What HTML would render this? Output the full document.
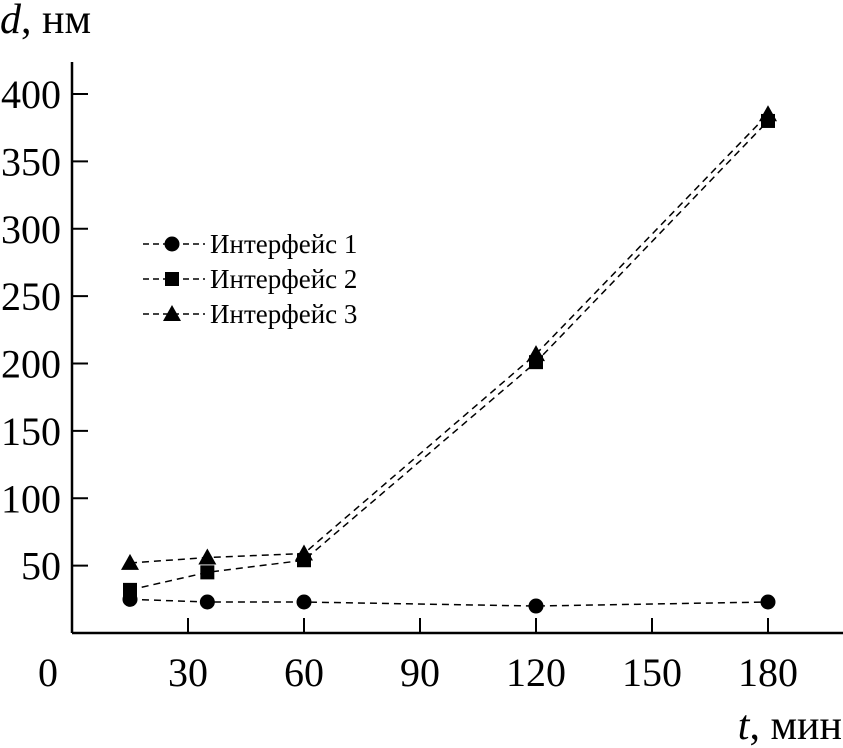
<!DOCTYPE html>
<html><head><meta charset="utf-8"><style>
body{margin:0;background:#fff}
svg{display:block;font-family:"Liberation Serif",serif}
</style></head><body>
<svg id="c" width="843" height="748"></svg>
<script>
const tvals=[15,35,60,120,180];
const s1=[25,23,23,20,23];
const s2=[32,45,54,201,380];
const s3=[52,56,59,207,385];
const xTicks=[0,30,60,90,120,150,180];
const yTicks=[50,100,150,200,250,300,350,400];
const legendLabels=["Интерфейс 1","Интерфейс 2","Интерфейс 3"];
const X0=72,XS=(188-72)/30,Y0=633,YS=(633-94)/400;
const x=v=>X0+v*XS, y=v=>Y0-v*YS;
const svg=document.getElementById('c');
const NS='http://www.w3.org/2000/svg';
function mk(t,a,p){const e=document.createElementNS(NS,t);for(const k in a)e.setAttribute(k,a[k]);(p||svg).appendChild(e);return e;}
let e;
e=mk('line',{x1:X0,y1:62,x2:X0,y2:Y0,stroke:'#000','stroke-width':2.5});


e=mk('line',{x1:X0,y1:Y0,x2:843,y2:Y0,stroke:'#000','stroke-width':2.5});


yTicks.forEach(v=>{
 e=mk('line',{x1:X0,y1:y(v),x2:X0+16,y2:y(v),stroke:'#000','stroke-width':2});
 
 
 e=mk('text',{x:61,y:y(v)+14,'text-anchor':'end','font-size':40});e.textContent=v;
 
 
});
xTicks.forEach(v=>{
 if(v>0){e=mk('line',{x1:x(v),y1:Y0,x2:x(v),y2:Y0-15,stroke:'#000','stroke-width':2});
 
 }
 e=mk('text',{x:v===0?48:x(v),y:686,'text-anchor':'middle','font-size':40});e.textContent=v;
 
 
});
e=mk('text',{x:0,y:33,'font-size':42});e.innerHTML='<tspan font-style="italic">d</tspan>, нм';


e=mk('text',{x:842,y:739,'text-anchor':'end','font-size':42});e.innerHTML='<tspan font-style="italic">t</tspan>, мин';


function marker(type,cx,cy,g){
 if(type===0)return mk('circle',{cx,cy,r:7.5,fill:'#000'},g);
 if(type===1)return mk('rect',{x:cx-7,y:cy-7,width:14,height:14,fill:'#000'},g);
 return mk('polygon',{points:`${cx},${cy-9} ${cx+9},${cy+7} ${cx-9},${cy+7}`,fill:'#000'},g);
}
[s1,s2,s3].forEach((s,i)=>{
 const g=mk('g',{});
 
 
 mk('polyline',{points:tvals.map((t,j)=>x(t)+','+y(s[j])).join(' '),fill:'none',stroke:'#000','stroke-width':1.5,'stroke-dasharray':'7,5'},g);
 tvals.forEach((t,j)=>{const m=marker(i,x(t),y(s[j]),g);
  
  });
 const ly=244+i*35;
 const lg=mk('g',{});
 
 
 mk('line',{x1:143,y1:ly,x2:205,y2:ly,stroke:'#000','stroke-width':1.5,'stroke-dasharray':'6,4'},lg);
 marker(i,172,ly,lg);
 const tx=mk('text',{x:210,y:ly+9,'font-size':27},lg);tx.textContent=legendLabels[i];
});
</script>
</body></html>
